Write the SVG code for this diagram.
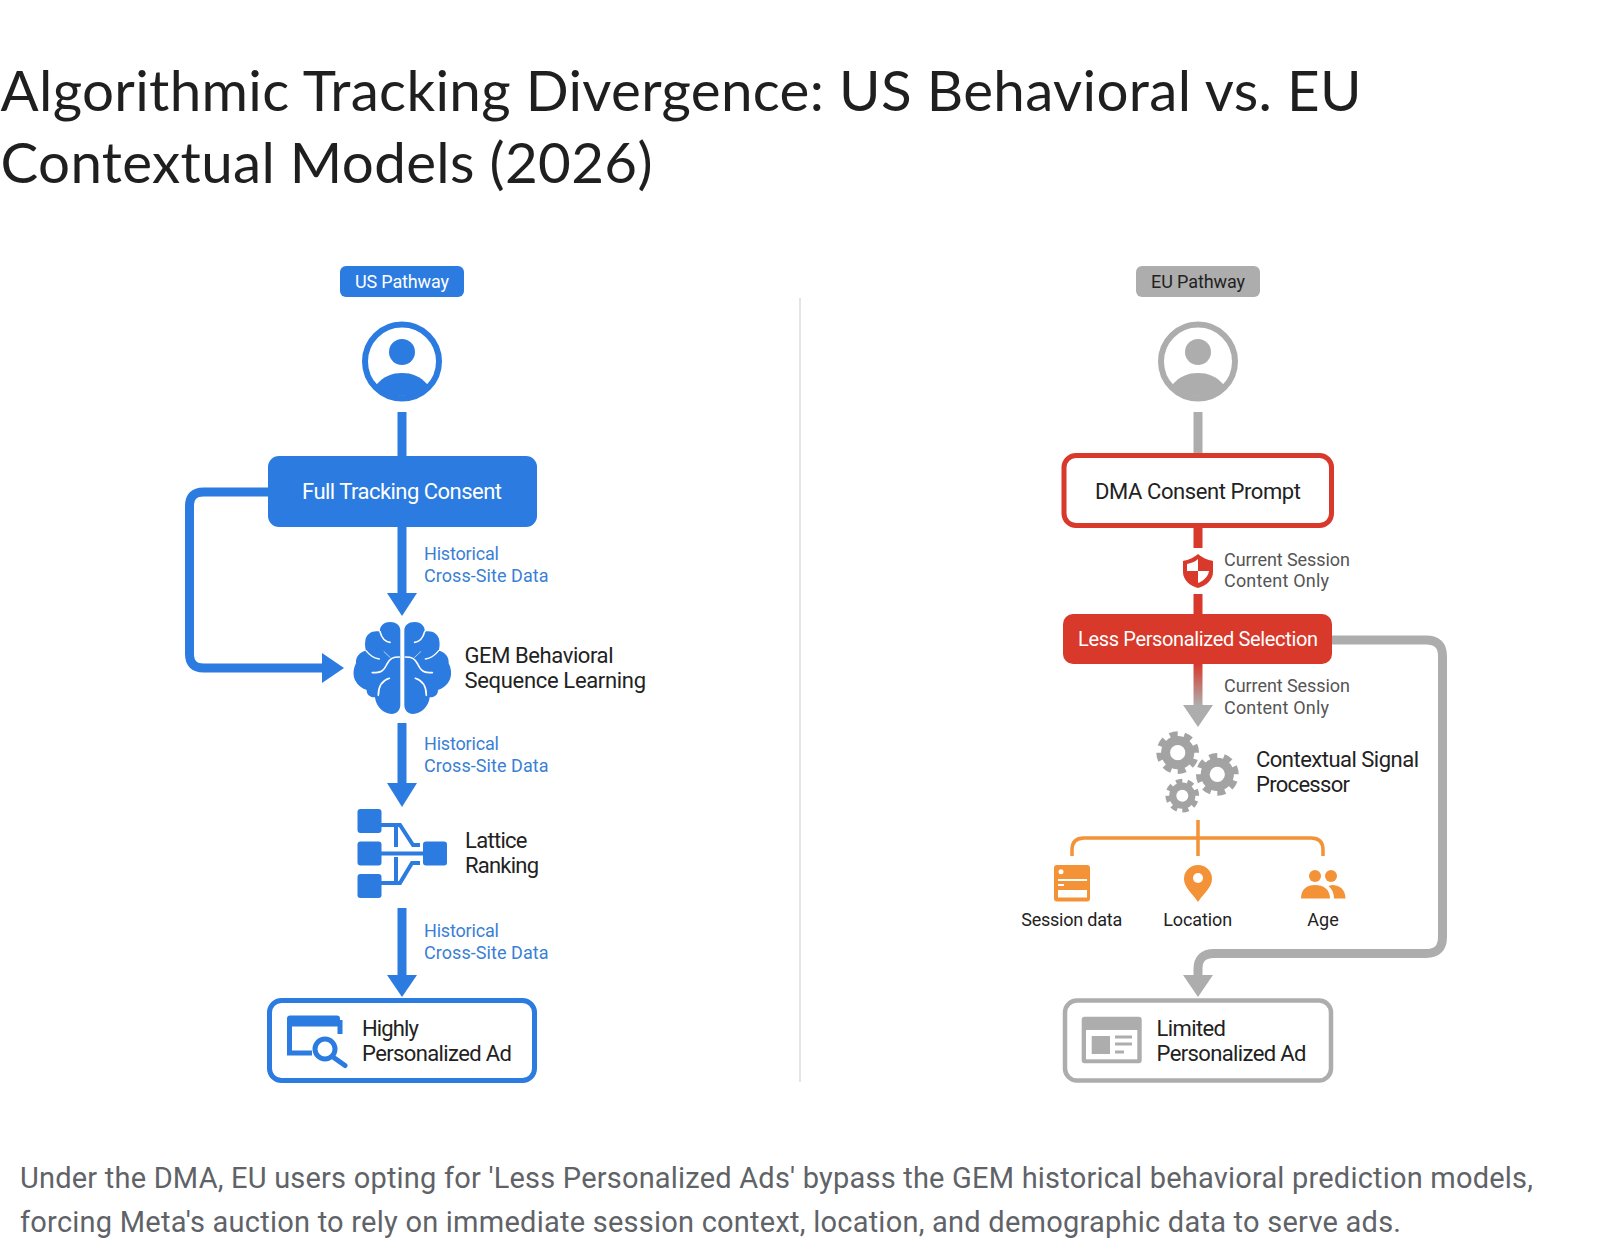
<svg xmlns="http://www.w3.org/2000/svg" width="1600" height="1256" viewBox="0 0 1600 1256">
<style>
text{font-family:"Roboto","Liberation Sans",sans-serif;fill:#222}
.title{font-family:"Lato","Liberation Sans",sans-serif;font-size:56.5px;fill:#1f1f1f}
.cap{font-size:29px;fill:#5f6368;font-weight:400}
.blue{fill:#2b7be0}.bluel{stroke:#2b7be0;fill:none;stroke-width:9}
.gray{fill:#adadad}.grayl{stroke:#adadad;fill:none;stroke-width:9}
.red{fill:#d8392b}.redl{stroke:#d8392b;fill:none;stroke-width:9}
.org{fill:#f39237}.orgl{stroke:#f39237;fill:none;stroke-width:3.5}
.lb{font-size:18px;fill:#3a7fd5}.lg{font-size:18px;fill:#555}
.nd{font-size:22px}.wt{fill:#fff}.ws{stroke:#fff;fill:none;stroke-linecap:round}
</style>
<defs>
<linearGradient id="fade" gradientUnits="userSpaceOnUse" x1="0" y1="664" x2="0" y2="705"><stop offset="0" stop-color="#d8392b"/><stop offset="1" stop-color="#adadad"/></linearGradient>
<g id="user"><circle r="37" fill="#fff" stroke="currentColor" stroke-width="6"/><circle cy="-9.5" r="13" fill="currentColor"/><path d="M-26 23.5C-18 14.5-10 11.5 0 11.5S18 14.5 26 23.5A36 36 0 0 1-26 23.5Z" fill="currentColor"/></g>
<g id="gear"><circle r="17.5" fill="#a3a3a3"/><circle r="19.5" fill="none" stroke="#a3a3a3" stroke-width="6" pathLength="16" stroke-dasharray="1.1 .9" transform="rotate(-24.700)"/><circle r="8" fill="#fff"/></g>
<g id="brainhalf"><path d="M181 60C180 45 168 36 150 36C130 36 118 50 120 65C100 60 78 70 76 92C74 105 76 115 78 122C60 125 46 140 48 160C40 175 38 195 45 210C52 225 65 235 80 240C80 255 90 262 105 262C108 290 130 312 155 312C170 312 181 300 181 285Z" fill="#2b7be0"/><path d="M178 141C158 141 150 145 141 162C130 185 122 188 97 188" class="ws" stroke-width="5"/><path d="M148 205C126 212 115 230 115 256" class="ws" stroke-width="5"/><path d="M120 65C125 85 135 95 150 97" class="ws" stroke-width="5"/><path d="M78 122C88 135 100 145 118 147" class="ws" stroke-width="4"/><path d="M132 125L150 142" class="ws" stroke-width="2"/></g>
</defs>
<rect width="1600" height="1256" fill="#fff"/>
<g id="heading">
<text class="title" x="0.500" y="110.500" textLength="1361">Algorithmic Tracking Divergence: US Behavioral vs. EU</text>
<text class="title" x="0.500" y="182.500" textLength="652">Contextual Models (2026)</text>
</g>
<line id="divider" x1="800" y1="298" x2="800" y2="1082" stroke="#dcdcdc" stroke-width="1.5"/>
<g id="connectors">
<path class="bluel" d="M402 412V456"/>
<path class="bluel" d="M268 492H203.500Q189.500 492 189.500 506V654Q189.500 668 203.500 668H324"/>
<path class="blue" d="M322 653L344 668L322 683Z"/>
<path class="bluel" d="M402 527V595"/><path class="blue" d="M387 593H417L402 616Z"/>
<path class="bluel" d="M402 723V785"/><path class="blue" d="M387 783H417L402 807Z"/>
<path class="bluel" d="M402 908V977"/><path class="blue" d="M387 975H417L402 997Z"/>
<path class="grayl" d="M1198 412V453"/>
<path class="redl" d="M1198 528V548M1198 594V615"/>
<path stroke="url(#fade)" stroke-width="9" fill="none" d="M1198 664V707"/><path class="gray" d="M1183 705H1213L1198 727Z"/>
<path class="grayl" d="M1332 640H1426Q1442.500 640 1442.500 656V937Q1442.500 953.500 1426 953.500H1214Q1198 953.500 1198 969V977"/><path class="gray" d="M1183 975H1213L1198 997Z"/>
<path class="orgl" d="M1198 820V856M1072 856V850Q1072 838 1084 838H1311Q1323 838 1323 850V856"/>
</g>
<g id="us-badge"><rect class="blue" x="340" y="266" width="124" height="31" rx="6"/><text class="wt" x="402" y="288" font-size="18" text-anchor="middle" textLength="94">US Pathway</text></g>
<use id="us-user" href="#user" x="402" y="361.5" color="#2b7be0"/>
<g id="full-tracking"><rect class="blue" x="268" y="456" width="269" height="71" rx="11"/><text class="wt nd" x="402" y="499" text-anchor="middle" textLength="200">Full Tracking Consent</text></g>
<g id="label-us-1"><text class="lb" x="424" y="560" textLength="75">Historical</text><text class="lb" x="424" y="581.500" textLength="124.500">Cross-Site Data</text></g>
<g id="gem"><g transform="translate(340 610) scale(.3333)"><use href="#brainhalf"/><use href="#brainhalf" transform="translate(374 0) scale(-1 1)"/></g>
<text class="nd" x="464.500" y="662.700" textLength="149">GEM Behavioral</text><text class="nd" x="464.500" y="688" textLength="181.500">Sequence Learning</text></g>
<g id="label-us-2"><text class="lb" x="424" y="750" textLength="75">Historical</text><text class="lb" x="424" y="771.500" textLength="124.500">Cross-Site Data</text></g>
<g id="lattice">
<g class="blue"><rect x="357.5" y="809" width="24" height="24" rx="3"/><rect x="357.5" y="841.5" width="24" height="24" rx="3"/><rect x="357.5" y="874" width="24" height="24" rx="3"/><rect x="423" y="841.5" width="24" height="24" rx="3"/></g>
<path d="M381 825H400L413 845H420M381 853.5H424M381 883H400L412 863H420M396 825V847M396 857V883" fill="none" stroke="#2b7be0" stroke-width="4"/>
<text class="nd" x="465" y="847.700" textLength="62.500">Lattice</text><text class="nd" x="465" y="873" textLength="74">Ranking</text></g>
<g id="label-us-3"><text class="lb" x="424" y="937" textLength="75">Historical</text><text class="lb" x="424" y="958.500" textLength="124.500">Cross-Site Data</text></g>
<g id="highly-ad"><rect x="269.5" y="1000.5" width="265" height="80" rx="12" fill="#fff" stroke="#2b7be0" stroke-width="5"/>
<rect class="blue" x="287" y="1015.5" width="53" height="11" rx="3"/>
<path d="M340 1020V1034M289.500 1020V1053H312" fill="none" stroke="#2b7be0" stroke-width="5"/>
<circle cx="325" cy="1049" r="10" fill="#fff" stroke="#2b7be0" stroke-width="5"/><path d="M333 1057L345 1065.500" stroke="#2b7be0" stroke-width="5" stroke-linecap="round"/>
<text class="nd" x="362" y="1036" textLength="57">Highly</text><text class="nd" x="362" y="1060.700" textLength="150">Personalized Ad</text></g>
<g id="eu-badge"><rect class="gray" x="1136" y="266" width="124" height="31" rx="6"/><text x="1198" y="288" font-size="18" fill="#333" text-anchor="middle" textLength="94">EU Pathway</text></g>
<use id="eu-user" href="#user" x="1198" y="361.500" color="#adadad"/>
<g id="dma"><rect x="1064" y="455.500" width="267.500" height="70" rx="12" fill="#fff" stroke="#d8392b" stroke-width="5"/><text class="nd" x="1198" y="498.700" text-anchor="middle" textLength="206">DMA Consent Prompt</text></g>
<g id="shield"><path class="red" d="M1198 554C1204 559 1209 560 1213 561V572C1213 580 1206 586 1198 588C1190 586 1183 580 1183 572V561C1187 560 1192 559 1198 554Z"/><path class="wt" d="M1198 559V571H1187V564C1191 563 1195 562 1198 559ZM1198 571H1209C1208 577 1203 581 1198 583Z"/></g>
<g id="label-eu-1"><text class="lg" x="1224" y="566" textLength="126">Current Session</text><text class="lg" x="1224" y="587" textLength="105">Content Only</text></g>
<g id="less"><rect class="red" x="1063" y="614" width="269" height="50" rx="10"/><text class="wt" font-size="20" x="1198" y="645.500" text-anchor="middle" textLength="240">Less Personalized Selection</text></g>
<g id="label-eu-2"><text class="lg" x="1224" y="692" textLength="126">Current Session</text><text class="lg" x="1224" y="714" textLength="105">Content Only</text></g>
<g id="processor"><use href="#gear" transform="translate(1177.700 752.700) scale(.95)"/><use href="#gear" transform="translate(1217.300 774.300) scale(.95)"/><use href="#gear" transform="translate(1182.300 795.700) scale(.75)"/>
<text class="nd" x="1256" y="767" textLength="163">Contextual Signal</text><text class="nd" x="1256" y="792" textLength="94">Processor</text></g>
<g id="session"><rect class="org" x="1054" y="865" width="36" height="36.500" rx="3"/><circle class="wt" cx="1061" cy="871.700" r="2.500"/><path d="M1058 880H1087M1058 885H1064" stroke="#fff" stroke-width="2"/><rect class="wt" x="1058" y="890" width="29" height="7.500"/><text font-size="18" x="1071.700" y="926" text-anchor="middle" textLength="101">Session data</text></g>
<g id="location"><path class="org" d="M1198 902C1192 893 1184 887 1184 879A14 14 0 0 1 1212 879C1212 887 1204 893 1198 902Z"/><circle class="wt" cx="1198" cy="878" r="5"/><text font-size="18" x="1197.700" y="926" text-anchor="middle" textLength="69">Location</text></g>
<g id="age"><circle class="org" cx="1315" cy="876" r="6"/><circle class="org" cx="1331" cy="876" r="6"/><path class="org" d="M1301 898.500C1301 889 1307 885 1315 885S1330 889 1330 898.500Z"/><path class="org" d="M1332 885C1340 885 1345.500 890 1345.500 898.500H1334C1334 893 1332 889 1328.500 886Z"/><text font-size="18" x="1323" y="926" text-anchor="middle" textLength="31.500">Age</text></g>
<g id="limited-ad"><rect x="1065" y="1000.500" width="266" height="80" rx="12" fill="#fff" stroke="#adadad" stroke-width="4.500"/>
<rect class="gray" x="1081.700" y="1016.700" width="60" height="46.600" rx="3"/><rect class="wt" x="1086" y="1030" width="51.300" height="29.300"/><rect class="gray" x="1091.700" y="1036" width="18.300" height="18"/><path d="M1115 1037H1132M1115 1044H1132M1115 1052H1124" stroke="#adadad" stroke-width="3"/>
<text class="nd" x="1156.500" y="1036" textLength="69.500">Limited</text><text class="nd" x="1156.500" y="1060.700" textLength="150">Personalized Ad</text></g>
<g id="caption">
<text class="cap" x="20" y="1188" textLength="1513">Under the DMA, EU users opting for 'Less Personalized Ads' bypass the GEM historical behavioral prediction models,</text>
<text class="cap" x="20" y="1232" textLength="1381">forcing Meta's auction to rely on immediate session context, location, and demographic data to serve ads.</text>
</g>
</svg>
